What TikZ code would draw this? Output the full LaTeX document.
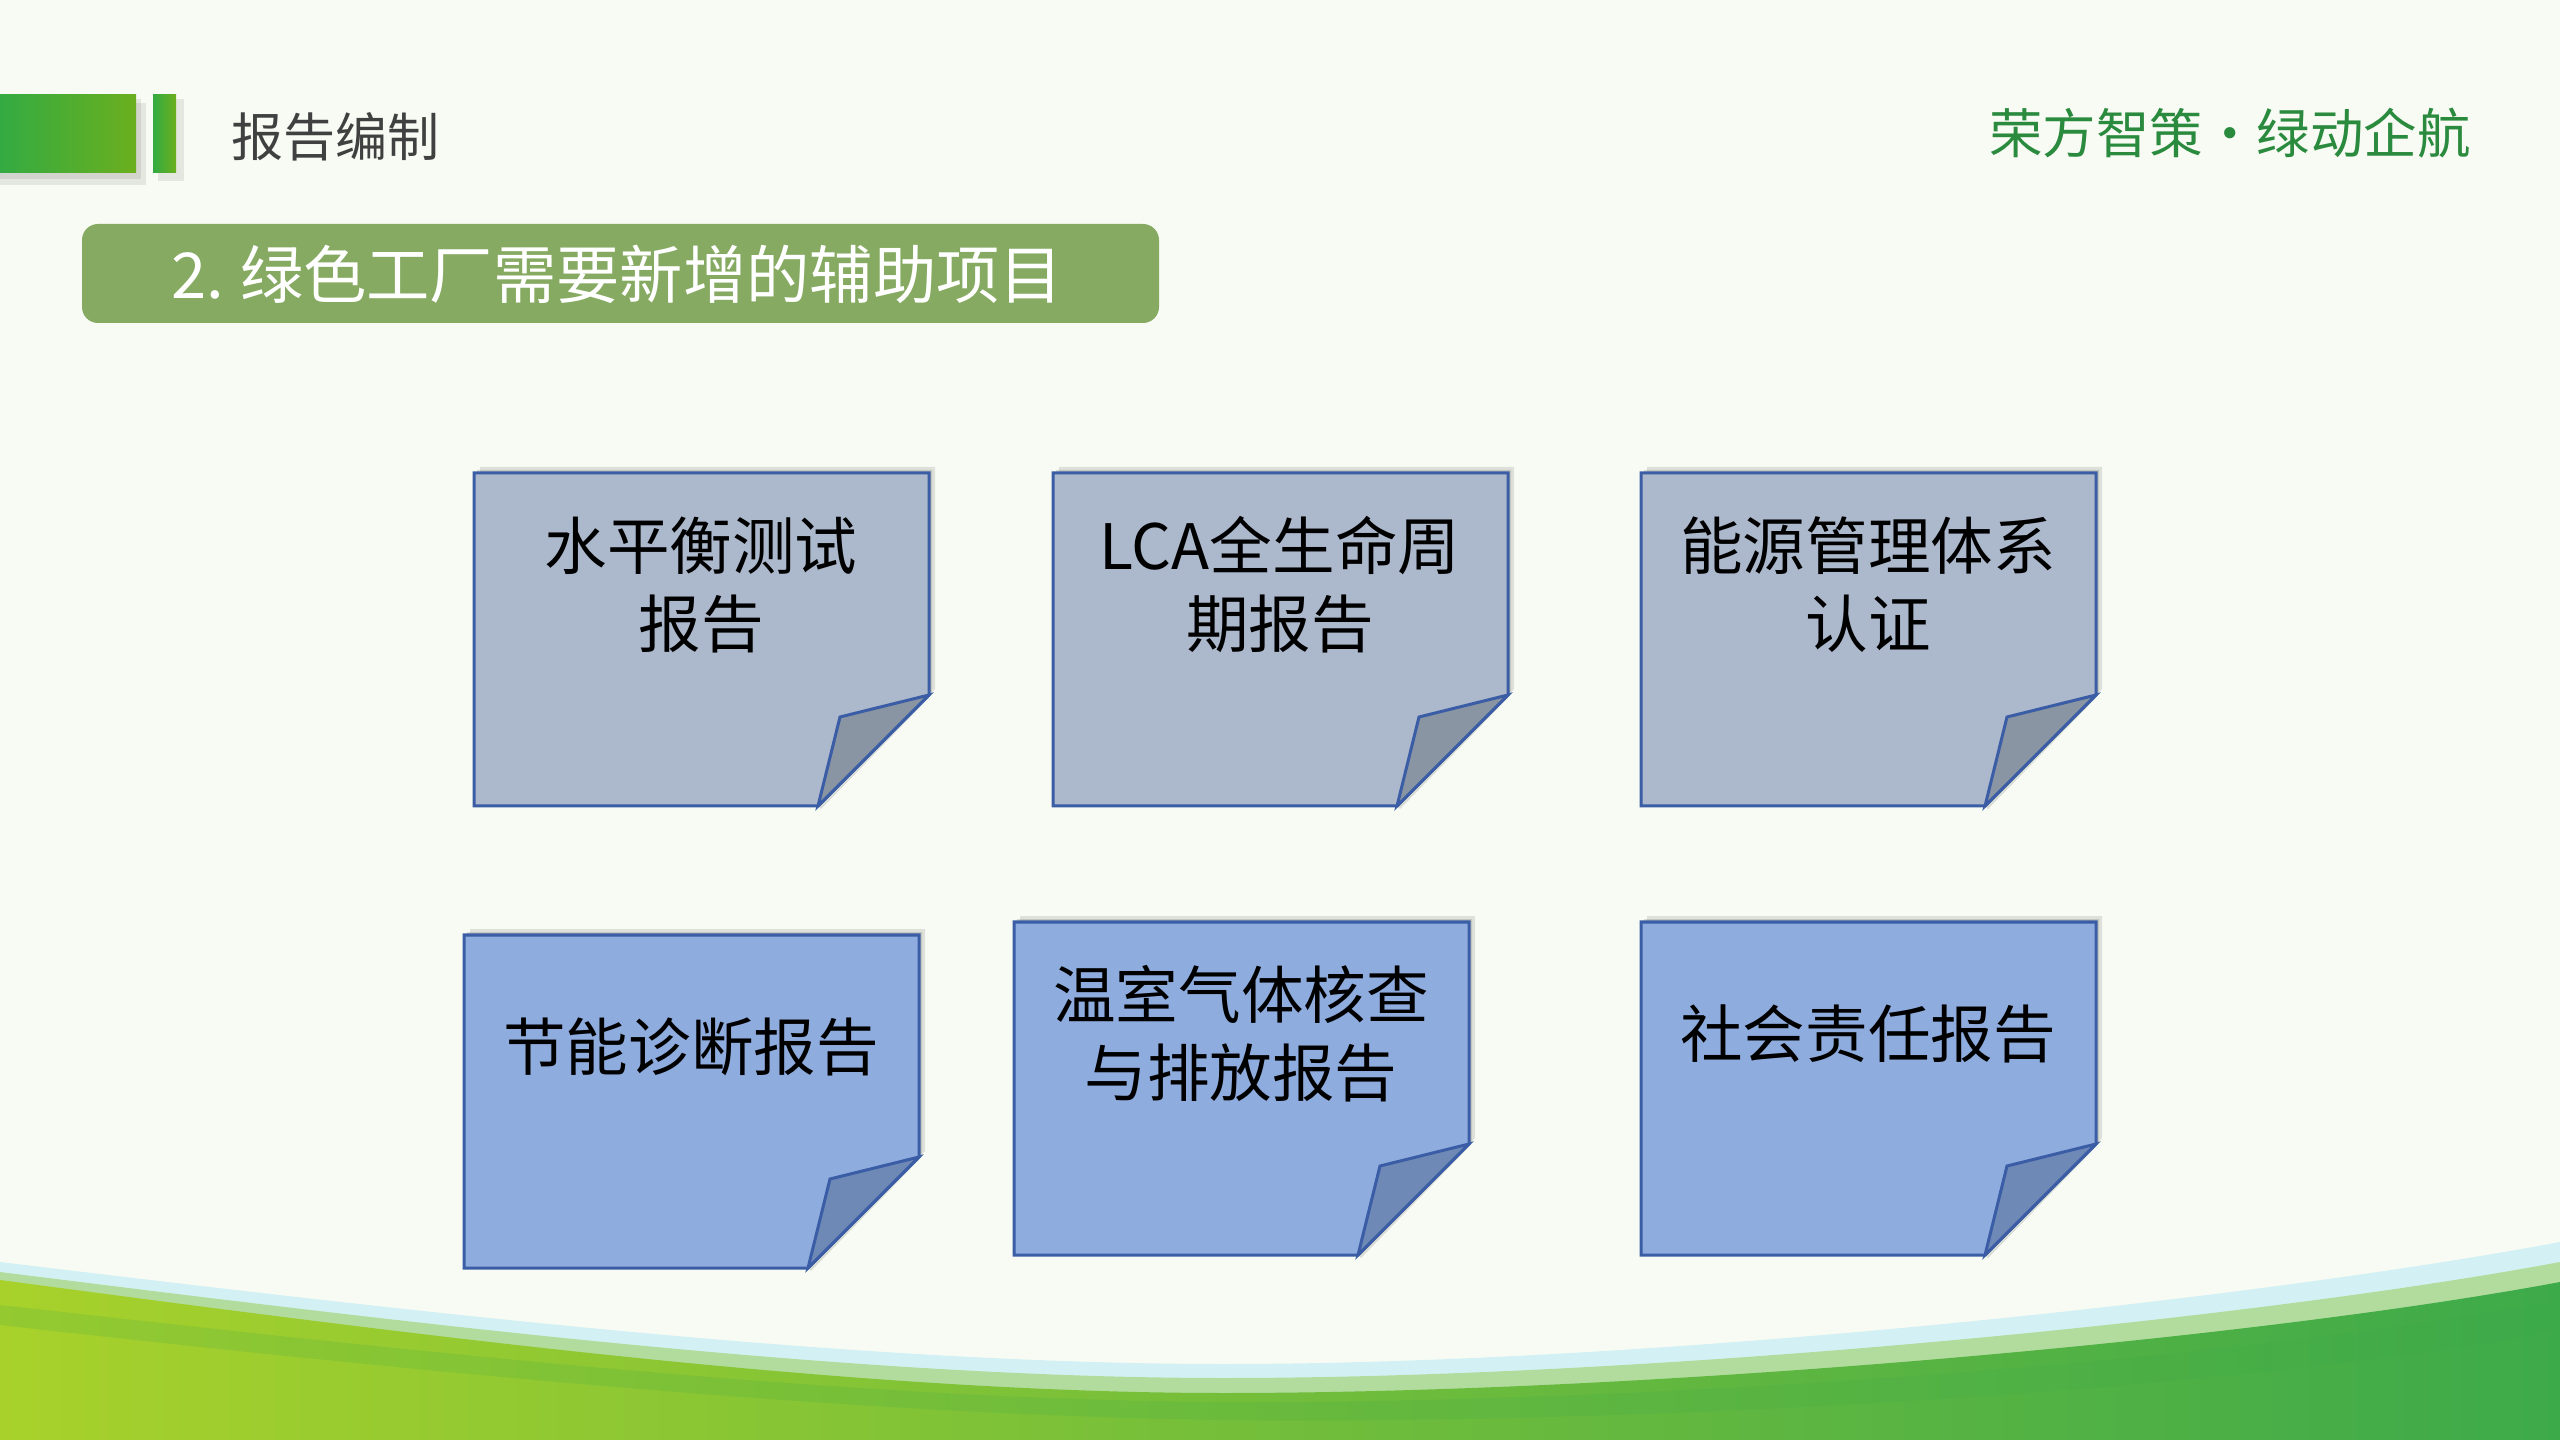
\documentclass[tikz,border=0pt]{standalone}
\usepackage{fontspec}
\newfontfamily\cjk{Noto Sans CJK SC}
\usetikzlibrary{positioning, calc}
\definecolor{cbg}{HTML}{F8FBF3}
\definecolor{cbarL}{HTML}{33AB42}
\definecolor{cbarR}{HTML}{6BAF1E}
\definecolor{cgrey}{HTML}{404040}
\definecolor{cbanner}{HTML}{86AA62}
\definecolor{cbrand}{HTML}{2A8A3E}
\definecolor{cedge}{HTML}{3A5DA5}
\definecolor{csheetA}{HTML}{ACB8CB}
\definecolor{cfoldA}{HTML}{8A95A4}
\definecolor{csheetB}{HTML}{8FACDE}
\definecolor{cfoldB}{HTML}{6F89B7}
\definecolor{cpale}{HTML}{D3F1F4}
\definecolor{clight}{HTML}{B2DC9E}
\definecolor{cgreenL}{HTML}{A8D12B}
\definecolor{cgreenM}{HTML}{86C43C}
\definecolor{cgreenR}{HTML}{3DAA4A}
\tikzset{
  every picture/.style={line width=0.03cm},
  sheet/.style={draw=cedge, fill=#1, line join=miter},
  sheet/.default=csheetA,
  cardtext/.style={font=\cjk\fontsize{17.8pt}{22.2pt}\selectfont, align=center, text=black},
  heading/.style={font=\cjk\fontsize{14.8pt}{18pt}\selectfont, text=cgrey, anchor=west, inner sep=0pt},
  brand/.style={font=\cjk\fontsize{15.2pt}{18pt}\selectfont, text=cbrand, anchor=east, inner sep=0pt},
  title/.style={font=\cjk\fontsize{18pt}{22pt}\selectfont, text=white, anchor=west, inner sep=0pt},
}
% paper card with a turned-up corner: x, y (top left), sheet colour, fold colour
\newcommand\papercard[4]{%
  \fill[black, opacity=0.10] (#1+6,#2-6) -- ++(455,0) -- ++(0,222) -- ++(-111,111) -- ++(-344,0) -- cycle;
  \fill[black, opacity=0.12] (#1+3,#2-3) -- ++(455,0) -- ++(0,222) -- ++(-111,111) -- ++(-344,0) -- cycle;
  \draw[sheet=#3] (#1,#2) -- ++(455,0) -- ++(0,222) -- ++(-111,111) -- ++(-344,0) -- cycle;
  \fill[black, opacity=0.12] (#1+455,#2+222+3) -- (#1+344+3,#2+333+3) -- (#1+344,#2+333) -- cycle;
  \draw[sheet=#4] (#1+455,#2+222) -- (#1+366,#2+244) -- (#1+344,#2+333) -- cycle;
}
\begin{document}
\begin{tikzpicture}[x=0.01cm, y=-0.01cm]
  \useasboundingbox (0,0) rectangle (2560,1440);
  \fill[cbg] (0,0) rectangle (2560,1440);
  % header bars
  \fill[black, opacity=0.08] (0,103) rectangle (146,185);
  \fill[black, opacity=0.08] (0,99) rectangle (141,179);
  \fill[black, opacity=0.08] (158,99) rectangle (184,181);
  \shade[left color=cbarL, right color=cbarR] (0,95) rectangle (136,173);
  \shade[left color=cbarL, right color=cbarR] (153,95) rectangle (176,173);
  \node[heading] (head) at (230,137) {报告编制};
  \node[brand] (brand) at (2472,133) {荣方智策•绿动企航};
  % title banner
  \fill[cbanner, rounded corners=0.16cm] (82,224) rectangle (1159,323);
  \node[title] (title) at (170,274) {2.\hspace{0.25em}绿色工厂需要新增的辅助项目};
  % bottom waves
  \fill[cpale] (0,1262) .. controls (400,1310) and (850,1364) .. (1224,1364)
    .. controls (1650,1364) and (2250,1300) .. (2560,1242) -- (2560,1440) -- (0,1440) -- cycle;
  \fill[clight] (0,1272) .. controls (400,1322) and (850,1378) .. (1224,1378)
    .. controls (1650,1378) and (2250,1320) .. (2560,1262) -- (2560,1440) -- (0,1440) -- cycle;
  \shade[left color=cgreenL, middle color=cgreenM, right color=cgreenR]
    (0,1280) .. controls (400,1333) and (850,1393) .. (1224,1393)
    .. controls (1650,1393) and (2250,1340) .. (2560,1282) -- (2560,1440) -- (0,1440) -- cycle;
  \fill[cgreenR, opacity=0.18] (0,1305) .. controls (400,1350) and (850,1400) .. (1224,1402)
    .. controls (1650,1404) and (2250,1360) .. (2560,1300) -- (2560,1330)
    .. controls (2250,1390) and (1650,1425) .. (1224,1420)
    .. controls (850,1415) and (400,1370) .. (0,1325) -- cycle;
  % cards, top row
  \papercard{474}{473}{csheetA}{cfoldA}
  \papercard{1053}{473}{csheetA}{cfoldA}
  \papercard{1641}{473}{csheetA}{cfoldA}
  % cards, bottom row
  \papercard{464}{935}{csheetB}{cfoldB}
  \papercard{1014}{922}{csheetB}{cfoldB}
  \papercard{1641}{922}{csheetB}{cfoldB}
  % card labels
  \node[cardtext] (water) at (474+227,473+112) {水平衡测试\\报告};
  \node[cardtext] (lca) at (1053+227,473+112) {LCA全生命周\\期报告};
  \node[cardtext] (energy) at (1641+227,473+112) {能源管理体系\\认证};
  \node[cardtext] (audit) at (464+227,935+112) {节能诊断报告};
  \node[cardtext] (ghg) at (1014+227,922+112) {温室气体核查\\与排放报告};
  \node[cardtext] (csr) at (1641+227,922+112) {社会责任报告};
\end{tikzpicture}
\end{document}
